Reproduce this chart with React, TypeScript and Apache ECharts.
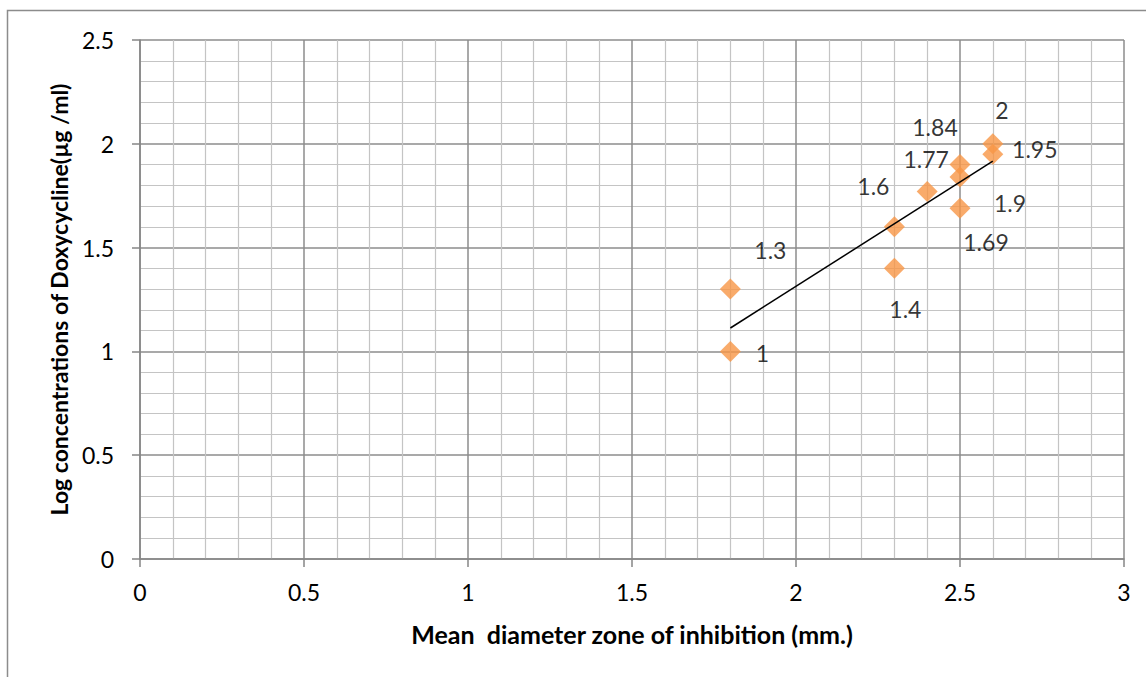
import React, { useEffect, useRef } from "react";
import * as echarts from "echarts";

// Data
const xValues = [1.8, 1.8, 2.3, 2.3, 2.4, 2.5, 2.5, 2.5, 2.6, 2.6];
const yValues = [1.0, 1.3, 1.4, 1.6, 1.77, 1.84, 1.9, 1.69, 2.0, 1.95];
const xTicks = [0, 0.5, 1, 1.5, 2, 2.5, 3];
const yTicks = [0, 0.5, 1, 1.5, 2, 2.5];

// Label placement (pixel offsets from marker centre)
const labelOffsets: [number, number][] = [
  [32, 2],
  [40, -39],
  [11, 41],
  [-21, -41],
  [-1, -33],
  [-25, -50],
  [50, 38],
  [26, 34],
  [9, -34],
  [42, -5],
];

const FONT = "Lato";

function regression(xs: number[], ys: number[]) {
  const n = xs.length;
  const mx = xs.reduce((a, b) => a + b, 0) / n;
  const my = ys.reduce((a, b) => a + b, 0) / n;
  let sxy = 0;
  let sxx = 0;
  for (let i = 0; i < n; i++) {
    sxy += (xs[i] - mx) * (ys[i] - my);
    sxx += (xs[i] - mx) * (xs[i] - mx);
  }
  const slope = sxy / sxx;
  const intercept = my - slope * mx;
  return { slope, intercept };
}

export default function App() {
  const ref = useRef<HTMLDivElement>(null);

  useEffect(() => {
    if (!ref.current) return;
    const chart = echarts.init(ref.current, undefined, { renderer: "svg" });
    const { slope, intercept } = regression(xValues, yValues);
    const xMin = Math.min(...xValues);
    const xMax = Math.max(...xValues);
    const trend = [
      [xMin, intercept + slope * xMin],
      [xMax, intercept + slope * xMax],
    ];

    const points = xValues.map((x, i) => ({
      value: [x, yValues[i]],
      label: {
        show: true,
        position: "inside",
        offset: labelOffsets[i],
        formatter: String(yValues[i]),
      },
    }));

    const majorColor = "#8c8c8c";
    const minorColor = "#c4c4c4";

    chart.setOption({
      animation: false,
      backgroundColor: "#ffffff",
      textStyle: { fontFamily: FONT },
      grid: { left: 140, right: 22, top: 40, bottom: 118, containLabel: false },
      xAxis: {
        type: "value",
        min: xTicks[0],
        max: xTicks[xTicks.length - 1],
        interval: 0.5,
        name: "Mean  diameter zone of inhibition (mm.)",
        nameLocation: "middle",
        nameGap: 62,
        nameTextStyle: { fontFamily: FONT, fontWeight: "bold", fontSize: 25, color: "#000" },
        axisLine: { show: true, onZero: false, lineStyle: { color: "#868686", width: 1.5 } },
        axisTick: { show: true, length: 8, lineStyle: { color: "#868686", width: 1.5 } },
        axisLabel: { fontFamily: FONT, fontSize: 23, color: "#000", margin: 21 },
        splitLine: { show: true, lineStyle: { color: majorColor, width: 1.5 } },
        minorTick: { show: false, splitNumber: 5 },
        minorSplitLine: { show: true, lineStyle: { color: minorColor, width: 1.2 } },
      },
      yAxis: {
        type: "value",
        min: yTicks[0],
        max: yTicks[yTicks.length - 1],
        interval: 0.5,
        name: "Log concentrations of Doxycycline(µg /ml)",
        nameLocation: "middle",
        nameGap: 68,
        nameRotate: 90,
        nameTextStyle: { fontFamily: FONT, fontWeight: "bold", fontSize: 23, color: "#000" },
        axisLine: { show: true, onZero: false, lineStyle: { color: "#868686", width: 1.5 } },
        axisTick: { show: true, length: 8, lineStyle: { color: "#868686", width: 1.5 } },
        axisLabel: { fontFamily: FONT, fontSize: 23, color: "#000", margin: 26 },
        splitLine: { show: true, lineStyle: { color: majorColor, width: 1.5 } },
        minorTick: { show: false, splitNumber: 5 },
        minorSplitLine: { show: true, lineStyle: { color: minorColor, width: 1.2 } },
      },
      graphic: [
        {
          type: "rect",
          shape: { x: 7.5, y: 10.5, width: 1200, height: 700 },
          style: { fill: "none", stroke: "#8c8c8c", lineWidth: 1.5 },
          silent: true,
        },
      ],
      series: [
        {
          type: "line",
          data: trend,
          symbol: "none",
          lineStyle: { color: "#000", width: 1.5 },
          z: 3,
          silent: true,
        },
        {
          type: "scatter",
          data: points,
          symbol: "diamond",
          symbolSize: 21,
          itemStyle: { color: "#F79646" },
          label: { fontFamily: FONT, fontSize: 23, color: "#000" },
          z: 2,
        },
      ],
    });
    return () => chart.dispose();
  }, []);

  return (
    <div
      ref={ref}
      style={{ position: "fixed", left: 0, top: 0, width: 1146, height: 677, background: "#fff" }}
    />
  );
}
